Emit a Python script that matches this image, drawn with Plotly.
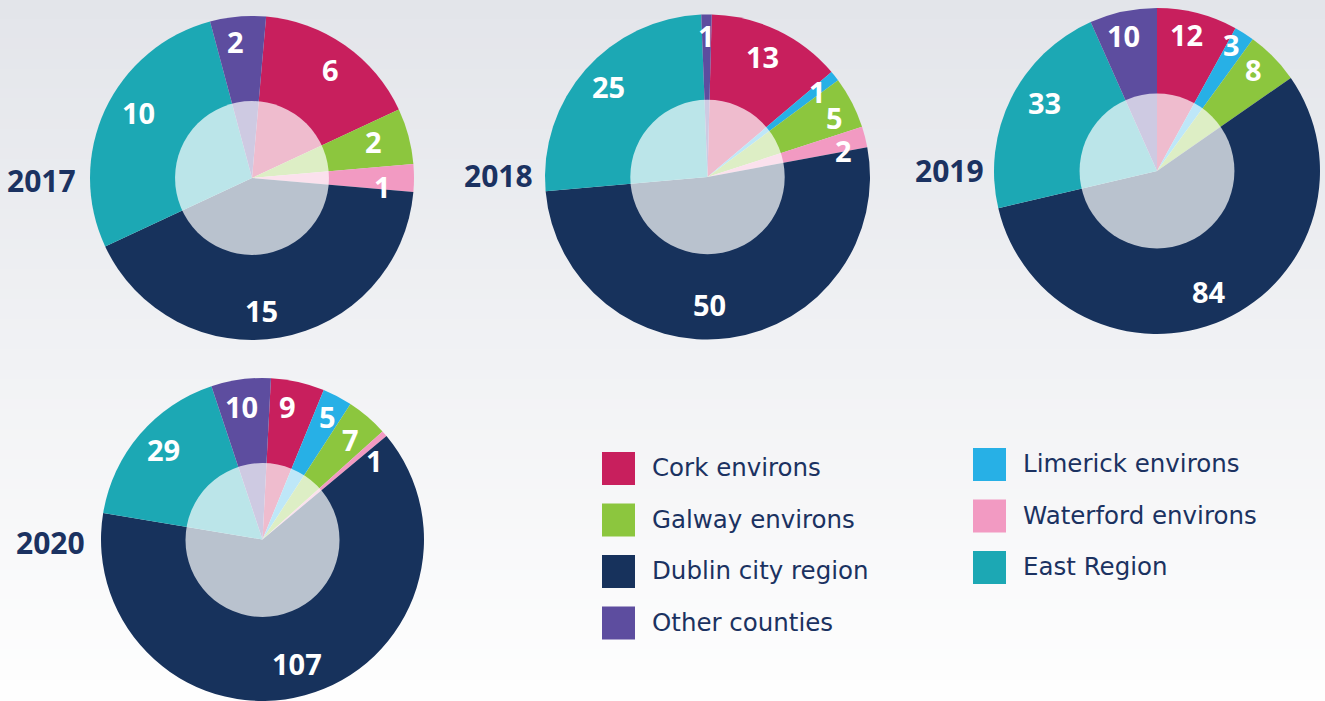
import math
import plotly.graph_objects as go

W, H = 1325, 701

# ---- data ----
regions = ["Cork environs", "Limerick environs", "Galway environs", "Waterford environs",
           "Dublin city region", "East Region", "Other counties"]
years = ["2017", "2018", "2019", "2020"]
v2017 = [6, 0, 2, 1, 15, 10, 2]
v2018 = [13, 1, 5, 2, 50, 25, 1]
v2019 = [12, 3, 8, 0, 84, 33, 10]
v2020 = [9, 5, 7, 1, 107, 29, 10]
values = [v2017, v2018, v2019, v2020]
legend_left = ["Cork environs", "Galway environs", "Dublin city region", "Other counties"]
legend_right = ["Limerick environs", "Waterford environs", "East Region"]

# ---- style ----
colors = {"Cork environs": "#c81f5d", "Limerick environs": "#27b0e6", "Galway environs": "#8cc63e",
          "Waterford environs": "#f29ac2", "Dublin city region": "#17325c", "East Region": "#1ca8b4",
          "Other counties": "#5d4d9f"}
NAVY = "#1b3261"
FONT = "Open Sans"
LEG_FONT = "DejaVu Sans"
# per-pie layout (pixel centre, radius, rotation, year-label centre)
layout_px = [
    dict(cx=252, cy=178, R=162, rot=5, lx=42, ly=181),
    dict(cx=707.5, cy=177, R=162.5, rot=1.5, lx=498, ly=175),
    dict(cx=1157, cy=171, R=163, rot=0, lx=949, ly=170),
    dict(cx=262.5, cy=540, R=162, rot=3, lx=51, ly=542),
]
# small pixel nudges of the value labels (per region, regions order)
label_nudge = [
    [(1, 2), (0, 0), (-8, -2), (-9, 8), (-14, 0), (8, -9), (-5, -3)],
    [(-3, 1), (0, 1), (7, 2), (1, 8), (-16, -6), (2, -1), (0, -2)],
    [(-4, -5), (-1, -8), (0, -7), (0, 0), (-3, -3), (9, -8), (-5, -3)],
    [(-4, -2), (0, 0), (1, 2), (7, 12), (-1, -6), (3, -3), (-3, 0)],
]
INNER = 0.475


def px_dom(cx, cy, r):
    x0 = max(0, (cx - r) / W)
    x1 = min(1, (cx + r) / W)
    y0 = max(0, (H - cy - r) / H)
    y1 = min(1, (H - cy + r) / H)
    return dict(x=[x0, x1], y=[y0, y1])


fig = go.Figure()
annotations = []
shapes = []

# background gradient
nb = 70
top = (227, 229, 234)
bot = (254, 254, 254)
for i in range(nb):
    t = i / (nb - 1)
    c = tuple(round(top[k] + (bot[k] - top[k]) * t) for k in range(3))
    shapes.append(dict(type="rect", xref="paper", yref="paper", layer="below",
                       x0=0, x1=1, y0=1 - (i + 1) / nb, y1=1 - i / nb + 0.002,
                       line=dict(width=0), fillcolor="rgb(%d,%d,%d)" % c))

for yr, vals, L, nud in zip(years, values, layout_px, label_nudge):
    fig.add_trace(go.Pie(
        labels=regions, values=vals, sort=False, direction="clockwise", rotation=L["rot"],
        marker=dict(colors=[colors[r] for r in regions], line=dict(width=0)),
        textinfo="none", textposition="none", hoverinfo="label+value",
        showlegend=False, domain=px_dom(L["cx"], L["cy"], L["R"])))
    # translucent inner disc
    fig.add_trace(go.Pie(
        labels=["inner"], values=[1], marker=dict(colors=["rgba(255,255,255,0.70)"], line=dict(width=0)),
        textinfo="none", textposition="none", hoverinfo="skip", showlegend=False,
        domain=px_dom(L["cx"], L["cy"], L["R"] * INNER)))
    # value labels
    tot = sum(vals)
    cum = 0
    for v, (ndx, ndy) in zip(vals, nud):
        if v > 0:
            mid = L["rot"] + (cum + v / 2) / tot * 360
            frac = 0.83 if v / tot > 0.04 else 0.86
            rr = L["R"] * frac
            a = math.radians(mid)
            x = L["cx"] + rr * math.sin(a) + ndx
            y = L["cy"] - rr * math.cos(a) + ndy
            annotations.append(dict(x=x / W, y=1 - y / H, xref="paper", yref="paper",
                                    text="<b>%d</b>" % v, showarrow=False,
                                    font=dict(family=FONT, size=29, color="white"),
                                    xanchor="center", yanchor="middle"))
        cum += v
    annotations.append(dict(x=L["lx"] / W, y=1 - L["ly"] / H, xref="paper", yref="paper",
                            text="<b>%s</b>" % yr, showarrow=False,
                            font=dict(family=FONT, size=30, color=NAVY),
                            xanchor="center", yanchor="middle"))

# legend
def legend_col(names, sx, sy0, tx):
    for i, n in enumerate(names):
        y0 = sy0 + i * 51.5
        shapes.append(dict(type="rect", xref="paper", yref="paper", layer="above",
                           x0=sx / W, x1=(sx + 33) / W, y0=1 - (y0 + 33) / H, y1=1 - y0 / H,
                           line=dict(width=0), fillcolor=colors[n]))
        annotations.append(dict(x=tx / W, y=1 - (y0 + 15.5) / H, xref="paper", yref="paper",
                                text=n, showarrow=False, xanchor="left", yanchor="middle",
                                font=dict(family=LEG_FONT, size=24.5, color=NAVY)))

legend_col(legend_left, 602, 452, 650)
legend_col(legend_right, 973, 448, 1021)

fig.update_layout(width=W, height=H, margin=dict(l=0, r=0, t=0, b=0),
                  paper_bgcolor="white", plot_bgcolor="white",
                  shapes=shapes, annotations=annotations)
fig.write_html("out.html", config={"displayModeBar": False},
               post_script="document.body.style.margin='0';document.body.style.overflow='hidden';")
